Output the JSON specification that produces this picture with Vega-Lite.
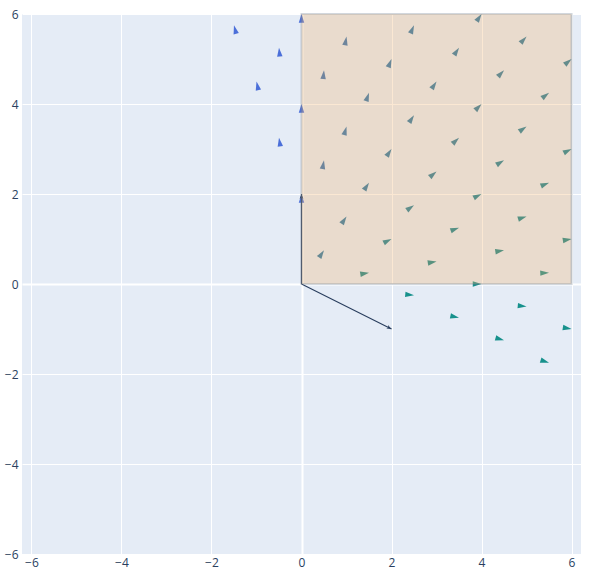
{
  "$schema": "https://vega.github.io/schema/vega-lite/v6.json",
  "width": 559,
  "height": 540,
  "autosize": {"type": "none"},
  "padding": {"left": 22, "top": 14, "right": 13, "bottom": 23},
  "background": "white",
  "config": {
    "view": {"fill": "#E5ECF6", "stroke": null}
  },
  "datasets": {
    "pts": [
      {"x": 0.5, "y": 0.75, "angle": 33.7},
      {"x": 1.5, "y": 0.25, "angle": 80.5},
      {"x": 2.5, "y": -0.25, "angle": 95.7},
      {"x": 3.5, "y": -0.75, "angle": 102.1},
      {"x": 4.5, "y": -1.25, "angle": 105.5},
      {"x": 5.5, "y": -1.75, "angle": 107.6},
      {"x": 0, "y": 2, "angle": 0},
      {"x": 1, "y": 1.5, "angle": 33.7},
      {"x": 2, "y": 1, "angle": 63.4},
      {"x": 3, "y": 0.5, "angle": 80.5},
      {"x": 4, "y": 0, "angle": 90},
      {"x": 5, "y": -0.5, "angle": 95.7},
      {"x": 6, "y": -1, "angle": 99.5},
      {"x": -0.5, "y": 3.25, "angle": -8.7},
      {"x": 0.5, "y": 2.75, "angle": 10.3},
      {"x": 1.5, "y": 2.25, "angle": 33.7},
      {"x": 2.5, "y": 1.75, "angle": 55.0},
      {"x": 3.5, "y": 1.25, "angle": 70.3},
      {"x": 4.5, "y": 0.75, "angle": 80.5},
      {"x": 5.5, "y": 0.25, "angle": 87.4},
      {"x": -1, "y": 4.5, "angle": -12.5},
      {"x": 0, "y": 4, "angle": 0},
      {"x": 1, "y": 3.5, "angle": 15.9},
      {"x": 2, "y": 3, "angle": 33.7},
      {"x": 3, "y": 2.5, "angle": 50.2},
      {"x": 4, "y": 2, "angle": 63.4},
      {"x": 5, "y": 1.5, "angle": 73.3},
      {"x": 6, "y": 1, "angle": 80.5},
      {"x": -1.5, "y": 5.75, "angle": -14.6},
      {"x": -0.5, "y": 5.25, "angle": -5.4},
      {"x": 0.5, "y": 4.75, "angle": 6.0},
      {"x": 1.5, "y": 4.25, "angle": 19.4},
      {"x": 2.5, "y": 3.75, "angle": 33.7},
      {"x": 3.5, "y": 3.25, "angle": 47.1},
      {"x": 4.5, "y": 2.75, "angle": 58.6},
      {"x": 5.5, "y": 2.25, "angle": 67.8},
      {"x": 0, "y": 6, "angle": 0},
      {"x": 1, "y": 5.5, "angle": 10.3},
      {"x": 2, "y": 5, "angle": 21.8},
      {"x": 3, "y": 4.5, "angle": 33.7},
      {"x": 4, "y": 4, "angle": 45},
      {"x": 5, "y": 3.5, "angle": 55.0},
      {"x": 6, "y": 3, "angle": 63.4},
      {"x": 2.5, "y": 5.75, "angle": 23.5},
      {"x": 3.5, "y": 5.25, "angle": 33.7},
      {"x": 4.5, "y": 4.75, "angle": 43.5},
      {"x": 5.5, "y": 4.25, "angle": 52.3},
      {"x": 4, "y": 6, "angle": 33.7},
      {"x": 5, "y": 5.5, "angle": 42.3},
      {"x": 6, "y": 5, "angle": 50.2}
    ],
    "vecs": [
      {"x0": 0, "y0": 0, "x1": 0, "y1": 2, "angle": 0},
      {"x0": 0, "y0": 0, "x1": 2, "y1": -1, "angle": 116.6}
    ],
    "box": [
      {"x0": 0, "y0": 0, "x1": 6, "y1": 6}
    ]
  },
  "layer": [
    {
      "data": {"name": "pts"},
      "mark": {"type": "point", "filled": true, "opacity": 1, "size": 64, "shape": "M0,0 L0.68,2.2 L-0.68,2.2 Z", "strokeWidth": 0},
      "encoding": {
        "x": {"field": "x", "type": "quantitative", "scale": {"domain": [-6.21, 6.21], "nice": false, "zero": false},
          "axis": {"values": [-6, -4, -2, 0, 2, 4, 6], "title": null, "domain": false, "ticks": false, "labelPadding": 3, "labelFlush": false,
            "labelFont": "Open Sans", "labelFontSize": 12, "labelColor": "#2a3f5f",
            "gridColor": "white", "gridWidth": {"condition": {"test": "datum.value === 0", "value": 2}, "value": 1}}},
        "y": {"field": "y", "type": "quantitative", "scale": {"domain": [-6, 6], "nice": false, "zero": false},
          "axis": {"values": [-6, -4, -2, 0, 2, 4, 6], "title": null, "domain": false, "ticks": false, "labelPadding": 4, "labelFlush": false,
            "labelFont": "Open Sans", "labelFontSize": 12, "labelColor": "#2a3f5f",
            "gridColor": "white", "gridWidth": {"condition": {"test": "datum.value === 0", "value": 2}, "value": 1}}},
        "angle": {"field": "angle", "type": "quantitative", "scale": null},
        "color": {"field": "angle", "type": "quantitative", "scale": {"domain": [0, 5, 45, 85, 92], "range": ["#4B6FD9", "#3A70B4", "#2F7A9C", "#1C8683", "#17918C"], "clamp": true}, "legend": null}
      }
    },
    {
      "data": {"name": "vecs"},
      "mark": {"type": "rule", "color": "#2a3f5f", "strokeWidth": 1.2},
      "encoding": {
        "x": {"field": "x0", "type": "quantitative", "scale": {"domain": [-6.21, 6.21], "nice": false, "zero": false}},
        "y": {"field": "y0", "type": "quantitative", "scale": {"domain": [-6, 6], "nice": false, "zero": false}},
        "x2": {"field": "x1"},
        "y2": {"field": "y1"}
      }
    },
    {
      "data": {"name": "vecs"},
      "mark": {"type": "point", "filled": true, "opacity": 1, "size": 30, "shape": "M0,0 L0.7,1.8 L0,1.3 L-0.7,1.8 Z", "color": "#2a3f5f", "strokeWidth": 0},
      "encoding": {
        "x": {"field": "x1", "type": "quantitative", "scale": {"domain": [-6.21, 6.21], "nice": false, "zero": false}},
        "y": {"field": "y1", "type": "quantitative", "scale": {"domain": [-6, 6], "nice": false, "zero": false}},
        "angle": {"field": "angle", "type": "quantitative", "scale": null}
      }
    },
    {
      "data": {"name": "box"},
      "mark": {"type": "rect", "fill": "#F2B46E", "fillOpacity": 0.3, "stroke": "#6b7a8f", "strokeOpacity": 0.3, "strokeWidth": 2},
      "encoding": {
        "x": {"field": "x0", "type": "quantitative", "scale": {"domain": [-6.21, 6.21], "nice": false, "zero": false}},
        "y": {"field": "y0", "type": "quantitative", "scale": {"domain": [-6, 6], "nice": false, "zero": false}},
        "x2": {"field": "x1"},
        "y2": {"field": "y1"}
      }
    }
  ]
}
